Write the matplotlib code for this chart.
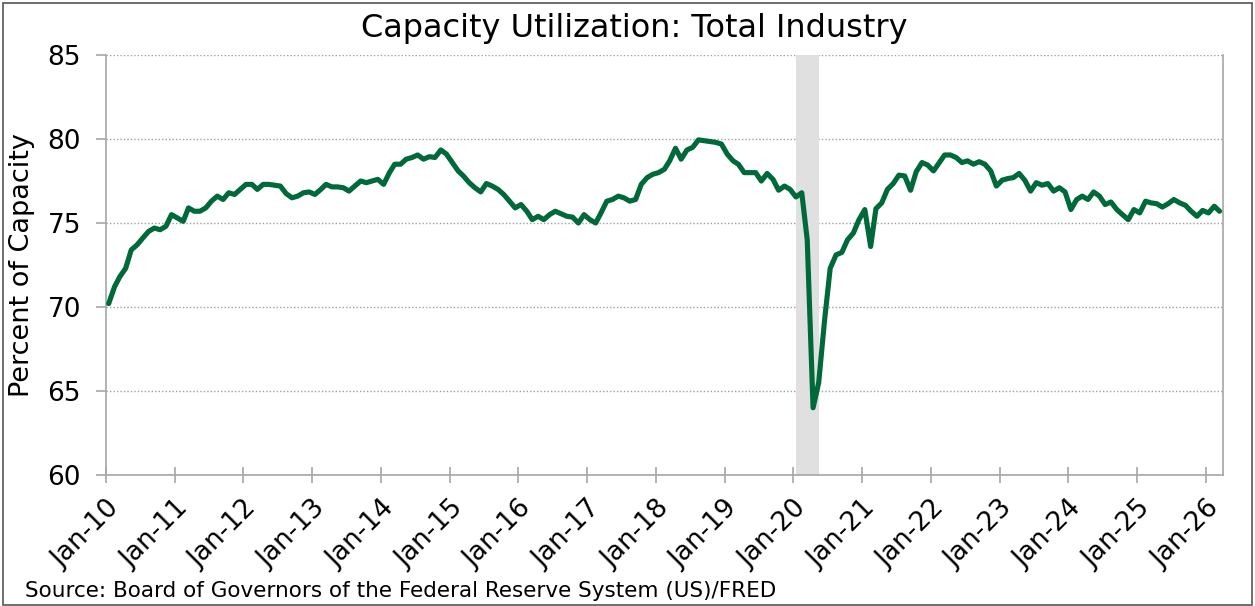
import matplotlib
matplotlib.use("Agg")
import matplotlib.pyplot as plt
import matplotlib.dates as mdates
from matplotlib.patches import Rectangle
import pandas as pd

# monthly capacity utilization, percent (Jan 2010 - Mar 2026)
v2010 = [70.2, 71.2, 71.8, 72.3, 73.4, 73.7, 74.1, 74.5, 74.7, 74.6, 74.8, 75.5]
v2011 = [75.3, 75.1, 75.9, 75.7, 75.7, 75.9, 76.3, 76.6, 76.4, 76.8, 76.7, 77.0]
v2012 = [77.3, 77.3, 77.0, 77.3, 77.3, 77.25, 77.2, 76.75, 76.5, 76.6, 76.8, 76.85]
v2013 = [76.7, 77.0, 77.3, 77.15, 77.15, 77.1, 76.9, 77.2, 77.5, 77.4, 77.5, 77.6]
v2014 = [77.3, 78.0, 78.5, 78.5, 78.8, 78.9, 79.05, 78.8, 78.95, 78.9, 79.35, 79.1]
v2015 = [78.6, 78.1, 77.8, 77.4, 77.1, 76.85, 77.35, 77.2, 77.0, 76.7, 76.3, 75.9]
v2016 = [76.1, 75.7, 75.2, 75.4, 75.2, 75.5, 75.7, 75.55, 75.4, 75.35, 75.0, 75.5]
v2017 = [75.2, 75.0, 75.6, 76.3, 76.4, 76.6, 76.5, 76.3, 76.4, 77.3, 77.7, 77.9]
v2018 = [78.0, 78.2, 78.7, 79.45, 78.8, 79.35, 79.5, 79.95, 79.9, 79.85, 79.8, 79.7]
v2019 = [79.1, 78.7, 78.5, 78.0, 78.0, 78.0, 77.5, 77.95, 77.6, 76.95, 77.2, 77.0]
v2020 = [76.55, 76.8, 74.0, 64.0, 65.5, 69.2, 72.3, 73.1, 73.25, 74.0, 74.4, 75.2]
v2021 = [75.8, 73.6, 75.85, 76.2, 77.0, 77.35, 77.85, 77.8, 76.95, 78.05, 78.6, 78.45]
v2022 = [78.1, 78.6, 79.05, 79.05, 78.9, 78.6, 78.7, 78.5, 78.65, 78.5, 78.1, 77.2]
v2023 = [77.55, 77.65, 77.7, 77.95, 77.55, 76.9, 77.4, 77.25, 77.35, 76.9, 77.1, 76.85]
v2024 = [75.8, 76.4, 76.6, 76.4, 76.85, 76.6, 76.1, 76.25, 75.8, 75.5, 75.2, 75.8]
v2025 = [75.6, 76.3, 76.2, 76.15, 75.95, 76.15, 76.4, 76.2, 76.05, 75.7, 75.4, 75.75]
v2026 = [75.6, 76.0, 75.7]

values = (v2010 + v2011 + v2012 + v2013 + v2014 + v2015 + v2016 + v2017 + v2018
          + v2019 + v2020 + v2021 + v2022 + v2023 + v2024 + v2025 + v2026)
months = pd.date_range("2010-01-01", periods=len(values), freq="MS") + pd.Timedelta(days=14)

recession = ("2020-01-16", "2020-05-17")
title = "Capacity Utilization: Total Industry"
ylabel = "Percent of Capacity"
source = "Source: Board of Governors of the Federal Reserve System (US)/FRED"

fig = plt.figure(figsize=(12.55, 6.06), dpi=100)
ax = fig.add_axes([0.0845, 0.2162, 0.8898, 0.693])

ax.axvspan(pd.Timestamp(recession[0]), pd.Timestamp(recession[1]), color="#e0e0e0", lw=0, zorder=1)
ax.plot(months, values, color="#00693a", lw=3.7, solid_capstyle="round", solid_joinstyle="round", zorder=3)

ax.set_ylim(60, 85)
ax.set_yticks([60, 65, 70, 75, 80, 85])
ax.set_xlim(pd.Timestamp("2010-01-01"), pd.Timestamp("2026-04-01"))
ax.xaxis.set_major_locator(mdates.YearLocator())
ax.xaxis.set_major_formatter(mdates.DateFormatter("%b-%y"))

ax.grid(axis="y", color="#a0a0a0", linestyle=(0, (1, 1.5)), lw=1)
ax.set_axisbelow(True)
for s in ["left", "bottom", "right"]:
    ax.spines[s].set_color("#a6a6a6")
    ax.spines[s].set_linewidth(1.2)
ax.spines["top"].set_visible(False)

ax.tick_params(axis="y", direction="out", length=7, width=1.2, color="#a6a6a6", pad=11, labelsize=19)
ax.tick_params(axis="x", direction="inout", length=12, width=1.2, color="#a6a6a6", pad=9, labelsize=19)
for lab in ax.get_xticklabels():
    lab.set_rotation(45)
    lab.set_ha("right")
    lab.set_va("top")
    lab.set_rotation_mode("anchor")

fig.text(0.5056, 0.953, title, ha="center", va="center", fontsize=23)
fig.text(0.0175, 0.5627, ylabel, ha="center", va="center", rotation=90, fontsize=19.5)
fig.text(0.02, 0.008, source, ha="left", va="bottom", fontsize=15.5)

fig.patches.append(Rectangle((0.002, 0.002), 0.996, 0.993, transform=fig.transFigure,
                             fill=False, edgecolor="#555555", lw=1.2))

fig.savefig("out.png", dpi=100)
